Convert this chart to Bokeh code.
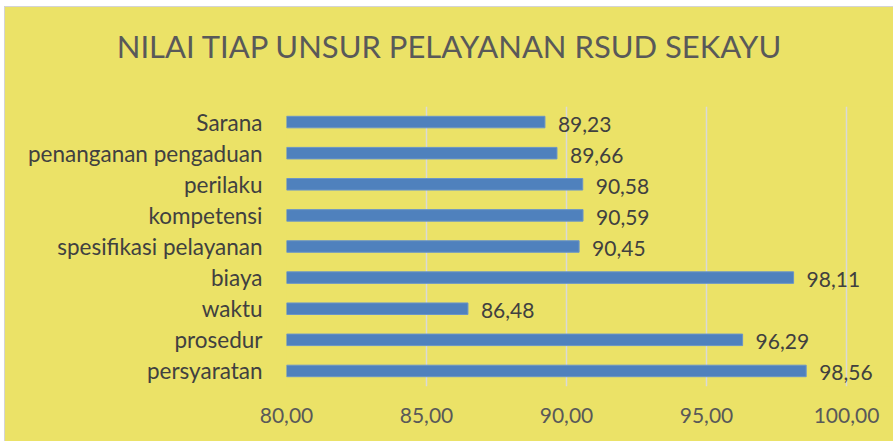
from bokeh.plotting import figure
from bokeh.models import ColumnDataSource, FactorRange, Range1d, FixedTicker, Div
from bokeh.layouts import column
from bokeh.core.properties import value
from bokeh.embed import file_html
from bokeh.resources import INLINE

# Data (top to bottom as in the chart)
categories = ["Sarana", "penanganan pengaduan", "perilaku", "kompetensi",
              "spesifikasi pelayanan", "biaya", "waktu", "prosedur", "persyaratan"]
scores = [89.23, 89.66, 90.58, 90.59, 90.45, 98.11, 86.48, 96.29, 98.56]
tick_values = [80, 85, 90, 95, 100]
tick_labels = ["80,00", "85,00", "90,00", "95,00", "100,00"]
title_text = "NILAI TIAP UNSUR PELAYANAN RSUD SEKAYU"

bg = "#EBE267"
font = "Lato"

src = ColumnDataSource(dict(
    cat=categories,
    val=scores,
    lbl=[f"{v:.2f}".replace(".", ",") for v in scores],
))

title = Div(
    text=title_text, width=888, height=99, margin=0,
    styles={"background-color": bg, "font-family": font, "font-size": "31px",
            "color": "#595959", "text-align": "center", "line-height": "31px",
            "padding-top": "24px", "box-sizing": "border-box", "white-space": "nowrap"},
)

p = figure(
    y_range=FactorRange(factors=list(reversed(categories))),
    x_range=Range1d(80, 80 + 607 / 28),
    frame_width=607, frame_height=280,
    min_border_left=281, min_border_right=0, min_border_top=0, min_border_bottom=56,
    output_backend="svg", toolbar_location=None,
    background_fill_color=bg, border_fill_color=bg,
)
p.margin = 0
p.outline_line_color = None

p.hbar(y="cat", left=80, right="val", height=0.37, source=src,
       fill_color="#4F81BD", line_color="#6A95C8", line_width=1)

p.text(x="val", y="cat", text="lbl", source=src, x_offset=13, y_offset=2,
       text_align="left", text_baseline="middle",
       text_font=value(font), text_font_size="21px", text_color="#404040")

# axes
p.xaxis.ticker = FixedTicker(ticks=tick_values)
p.xaxis.major_label_overrides = {v: s for v, s in zip(tick_values, tick_labels)}
p.xaxis.axis_line_color = None
p.xaxis.major_tick_line_color = None
p.xaxis.minor_tick_line_color = None
p.xaxis.major_label_standoff = 15
p.xaxis.major_label_text_font = font
p.xaxis.major_label_text_font_size = "21px"
p.xaxis.major_label_text_color = "#595959"

p.yaxis.axis_line_color = None
p.yaxis.major_tick_line_color = None
p.yaxis.minor_tick_line_color = None
p.yaxis.major_label_standoff = 18
p.yaxis.major_label_text_font = font
p.yaxis.major_label_text_font_size = "22.5px"
p.yaxis.major_label_text_color = "#404040"

p.xgrid.grid_line_color = "#D9D9D9"
p.xgrid.grid_line_width = 1.5
p.ygrid.grid_line_color = None

layout = column(title, p, spacing=0)
layout.margin = (7, 0, 0, 5)
layout.styles = {"outline": "1px solid #D4D4D4", "background-color": bg}

open("out.html", "w").write(file_html(layout, INLINE))
